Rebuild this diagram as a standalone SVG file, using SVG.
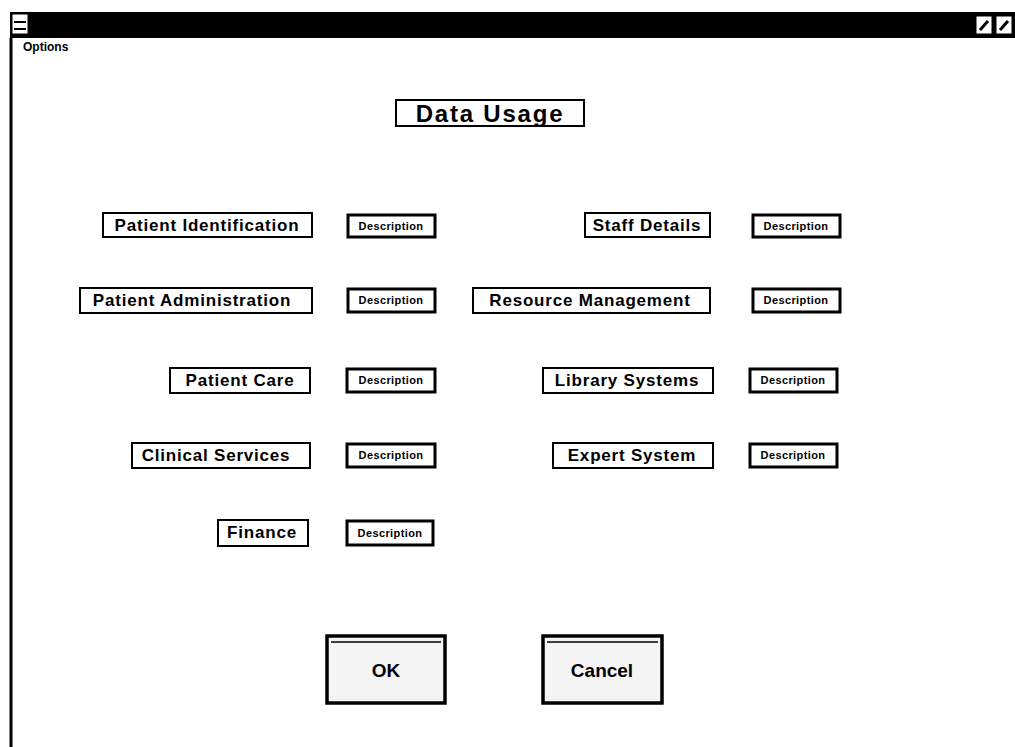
<svg xmlns="http://www.w3.org/2000/svg" width="1015" height="747" viewBox="0 0 1015 747">
<style>
.lbl{fill:#fff;stroke:#000;stroke-width:2}
.lt{font-family:"Liberation Sans",Arial,sans-serif;font-weight:bold;font-size:17px;letter-spacing:0.8px;fill:#000;text-anchor:middle}
.desc{fill:#fff;stroke:#000;stroke-width:3}
.dt{font-family:"Liberation Sans",Arial,sans-serif;font-weight:bold;font-size:11px;letter-spacing:0.4px;fill:#000;text-anchor:middle}
.btn{fill:#f4f4f4;stroke:#000;stroke-width:3.5}
.bt{font-family:"Liberation Sans",Arial,sans-serif;font-weight:bold;font-size:19px;fill:#000;text-anchor:middle}
</style>
<rect width="1015" height="747" fill="#fff"/>
<g id="window">
  <rect x="10" y="12" width="1005" height="26" fill="#000"/>
  <rect x="12" y="14" width="16" height="20" fill="#fff" stroke="#000"/>
  <line x1="14" y1="22" x2="26" y2="22" stroke="#000" stroke-width="2"/>
  <line x1="14" y1="29" x2="26" y2="29" stroke="#000" stroke-width="2"/>
  <rect x="976" y="16" width="16" height="18" fill="#fff" stroke="#000"/>
  <path d="M980 30 L988 21" stroke="#000" stroke-width="3"/>
  <rect x="996" y="16" width="16" height="18" fill="#fff" stroke="#000"/>
  <path d="M1000 30 L1008 21" stroke="#000" stroke-width="3"/>
  <line x1="11" y1="38" x2="11" y2="747" stroke="#000" stroke-width="3"/>
  <text x="23" y="51" font-family="Liberation Sans,Arial,sans-serif" font-weight="bold" font-size="12" fill="#000">Options</text>
</g>
<g id="title">
  <rect x="396" y="100" width="188" height="26" class="lbl"/>
  <text x="490" y="122" font-family="Liberation Sans,Arial,sans-serif" font-weight="bold" font-size="24" letter-spacing="1.8" fill="#000" text-anchor="middle">Data Usage</text>
</g>
<g id="patient-identification">
  <rect x="103" y="213" width="209" height="24" class="lbl"/>
  <text x="207" y="231" class="lt">Patient Identification</text>
  <rect x="348" y="215" width="87" height="22" class="desc"/>
  <text x="391" y="230" class="dt">Description</text>
</g>
<g id="patient-administration">
  <rect x="80" y="288" width="232" height="25" class="lbl"/>
  <text x="192" y="306" class="lt">Patient Administration</text>
  <rect x="348" y="289" width="87" height="23" class="desc"/>
  <text x="391" y="304" class="dt">Description</text>
</g>
<g id="patient-care">
  <rect x="170" y="368" width="140" height="25" class="lbl"/>
  <text x="240" y="386" class="lt">Patient Care</text>
  <rect x="347" y="369" width="88" height="23" class="desc"/>
  <text x="391" y="384" class="dt">Description</text>
</g>
<g id="clinical-services">
  <rect x="132" y="443" width="178" height="25" class="lbl"/>
  <text x="216" y="461" class="lt">Clinical Services</text>
  <rect x="347" y="444" width="88" height="23" class="desc"/>
  <text x="391" y="459" class="dt">Description</text>
</g>
<g id="finance">
  <rect x="218" y="520" width="90" height="26" class="lbl"/>
  <text x="262" y="538" class="lt">Finance</text>
  <rect x="347" y="521" width="86" height="24" class="desc"/>
  <text x="390" y="537" class="dt">Description</text>
</g>
<g id="staff-details">
  <rect x="585" y="213" width="125" height="24" class="lbl"/>
  <text x="647" y="231" class="lt">Staff Details</text>
  <rect x="753" y="215" width="87" height="22" class="desc"/>
  <text x="796" y="230" class="dt">Description</text>
</g>
<g id="resource-management">
  <rect x="473" y="288" width="237" height="25" class="lbl"/>
  <text x="590" y="306" class="lt">Resource Management</text>
  <rect x="753" y="289" width="87" height="23" class="desc"/>
  <text x="796" y="304" class="dt">Description</text>
</g>
<g id="library-systems">
  <rect x="543" y="368" width="170" height="25" class="lbl"/>
  <text x="627" y="386" class="lt">Library Systems</text>
  <rect x="750" y="369" width="87" height="23" class="desc"/>
  <text x="793" y="384" class="dt">Description</text>
</g>
<g id="expert-system">
  <rect x="553" y="443" width="160" height="25" class="lbl"/>
  <text x="632" y="461" class="lt">Expert System</text>
  <rect x="750" y="444" width="87" height="23" class="desc"/>
  <text x="793" y="459" class="dt">Description</text>
</g>
<g id="ok">
  <rect x="327" y="636" width="118" height="67" class="btn"/>
  <line x1="331" y1="642" x2="441" y2="642" stroke="#000" stroke-width="1.5"/>
  <text x="386" y="677" class="bt">OK</text>
</g>
<g id="cancel">
  <rect x="543" y="636" width="119" height="67" class="btn"/>
  <line x1="547" y1="642" x2="658" y2="642" stroke="#000" stroke-width="1.5"/>
  <text x="602" y="677" class="bt">Cancel</text>
</g>
<g id="connectors"/>
</svg>
